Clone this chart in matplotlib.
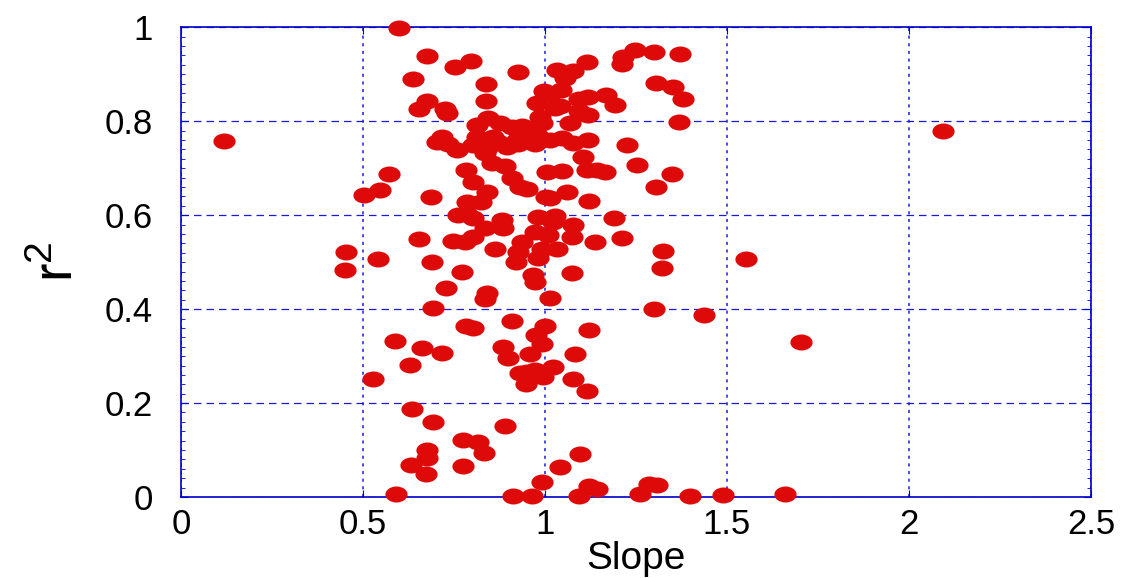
import matplotlib
matplotlib.use("Agg")
import matplotlib.pyplot as plt
from matplotlib.path import Path
from matplotlib.transforms import Affine2D
from matplotlib.ticker import MultipleLocator

# slope / r^2 pairs
slope = [
    0.118, 2.093, 1.552, 1.703, 1.659, 0.599, 0.676, 0.753, 0.797, 0.637,
    0.676, 0.654, 0.725, 0.731, 0.717, 0.703, 0.734, 0.758, 0.571, 0.547,
    0.503, 0.687, 0.761, 0.786, 0.654, 0.747, 0.780, 0.453, 0.541, 0.690,
    0.451, 0.772, 0.728, 0.692, 0.783, 0.588, 0.662, 0.717, 0.629, 0.527,
    0.635, 0.692, 0.775, 0.676, 0.676, 0.632, 0.775, 0.673, 0.591, 0.920,
    0.981, 0.967, 0.973, 1.074, 0.841, 0.835, 1.014, 0.802, 0.909, 1.000,
    0.975, 0.992, 1.121, 0.885, 0.959, 0.898, 1.082, 1.022, 0.931, 0.973,
    0.951, 0.995, 0.948, 1.077, 1.115, 0.890, 0.816, 0.832, 1.096, 1.041,
    0.992, 1.121, 1.143, 0.912, 0.964, 1.093, 1.321, 1.299, 1.437, 1.286,
    1.308, 1.261, 1.398, 1.489, 1.247, 1.299, 1.371, 1.214, 1.212, 1.305,
    1.352, 1.379, 1.168, 1.192, 1.368, 1.225, 1.253, 1.143, 1.165, 1.349,
    1.305, 1.190, 1.212, 1.137, 1.324, 0.926, 1.033, 1.077, 1.115, 1.055,
    0.838, 0.997, 1.044, 1.014, 0.978, 1.093, 1.118, 0.838, 1.027, 1.041,
    1.093, 1.118, 0.986, 0.992, 1.069, 0.843, 0.813, 0.876, 0.909, 0.937,
    0.959, 0.813, 0.857, 0.871, 0.923, 0.802, 0.841, 0.835, 0.896, 0.854,
    0.890, 0.978, 0.973, 0.926, 1.014, 1.047, 1.077, 1.118, 0.783, 0.802,
    0.841, 0.909, 0.931, 0.951, 1.005, 1.047, 1.104, 1.115, 0.786, 0.824,
    1.003, 1.014, 1.060, 1.121, 0.802, 0.882, 0.885, 0.835, 0.802, 0.981,
    1.027, 1.022, 1.077, 0.973, 1.008, 1.074, 0.937, 0.863, 0.926, 0.992,
    1.033,
]
r2 = [
    0.757, 0.779, 0.506, 0.330, 0.006, 0.998, 0.938, 0.915, 0.928, 0.889,
    0.843, 0.826, 0.826, 0.817, 0.766, 0.755, 0.751, 0.738, 0.687, 0.653,
    0.643, 0.638, 0.600, 0.602, 0.549, 0.545, 0.543, 0.521, 0.506, 0.500,
    0.483, 0.479, 0.445, 0.402, 0.364, 0.332, 0.317, 0.306, 0.281, 0.251,
    0.187, 0.160, 0.121, 0.100, 0.083, 0.068, 0.066, 0.049, 0.006, 0.500,
    0.509, 0.472, 0.457, 0.477, 0.434, 0.421, 0.423, 0.360, 0.374, 0.364,
    0.345, 0.326, 0.355, 0.319, 0.304, 0.296, 0.304, 0.277, 0.264, 0.270,
    0.266, 0.255, 0.240, 0.251, 0.226, 0.151, 0.117, 0.094, 0.091, 0.064,
    0.032, 0.023, 0.017, 0.002, 0.002, 0.002, 0.487, 0.400, 0.387, 0.028,
    0.026, 0.006, 0.002, 0.004, 0.951, 0.947, 0.943, 0.936, 0.921, 0.881,
    0.872, 0.847, 0.855, 0.834, 0.798, 0.749, 0.706, 0.696, 0.691, 0.687,
    0.660, 0.594, 0.551, 0.543, 0.523, 0.904, 0.909, 0.906, 0.926, 0.891,
    0.879, 0.864, 0.866, 0.857, 0.838, 0.847, 0.851, 0.843, 0.828, 0.832,
    0.821, 0.813, 0.809, 0.796, 0.796, 0.806, 0.791, 0.796, 0.787, 0.789,
    0.785, 0.766, 0.766, 0.755, 0.760, 0.749, 0.743, 0.732, 0.745, 0.711,
    0.704, 0.770, 0.751, 0.751, 0.760, 0.764, 0.753, 0.760, 0.696, 0.670,
    0.649, 0.679, 0.660, 0.655, 0.691, 0.694, 0.723, 0.696, 0.628, 0.628,
    0.638, 0.636, 0.649, 0.630, 0.594, 0.589, 0.572, 0.572, 0.553, 0.596,
    0.598, 0.585, 0.579, 0.564, 0.557, 0.553, 0.543, 0.528, 0.521, 0.528,
    0.528,
]

xticks = [0, 0.5, 1, 1.5, 2, 2.5]
yticks = [0, 0.2, 0.4, 0.6, 0.8, 1]

plt.rcParams["font.family"] = ["Liberation Sans", "DejaVu Sans"]
plt.rcParams["mathtext.fontset"] = "custom"
plt.rcParams["mathtext.rm"] = "Liberation Sans"
blue = "#0000cc"
gridblue = "#1a1ad8"

# wide, flat ellipse marker like the original
ellipse = Path.unit_circle().transformed(Affine2D().scale(1.0, 0.72))

fig = plt.figure(figsize=(11.36, 5.78), dpi=100)
ax = fig.add_axes([0.1593, 0.140, 0.801, 0.813])

ax.plot(slope, r2, linestyle="none", marker=ellipse, markersize=16,
        color="#de0a0a", markeredgewidth=0, zorder=3, clip_on=False)

ax.set_xlim(0, 2.5)
ax.set_ylim(0, 1)
ax.set_xticks(xticks)
ax.set_xticklabels([f"{t:g}" for t in xticks])
ax.set_yticks(yticks)
ax.set_yticklabels([f"{t:g}" for t in yticks])
ax.yaxis.set_minor_locator(MultipleLocator(0.02))

ax.grid(True, axis="y", color=gridblue, linestyle=(0, (6, 4)), linewidth=0.9)
ax.grid(True, axis="x", color=gridblue, linestyle=(0, (2, 3)), linewidth=1.1)
ax.set_axisbelow(True)

for s in ax.spines.values():
    s.set_color(blue)
    s.set_linewidth(1.2)

ax.tick_params(which="major", direction="in", length=5, color=blue,
               top=True, right=True, labelsize=25, labelcolor="black")
ax.tick_params(which="minor", direction="in", length=3, color=blue,
               left=True, right=True, bottom=False, top=False)
ax.tick_params(axis="x", pad=8)
ax.tick_params(axis="y", pad=20)

ax.set_xlabel("Slope", fontsize=28, labelpad=0)
ax.set_ylabel(r"$\mathrm{r^2}$", fontsize=40, labelpad=14)

fig.savefig("out.png", dpi=100)
